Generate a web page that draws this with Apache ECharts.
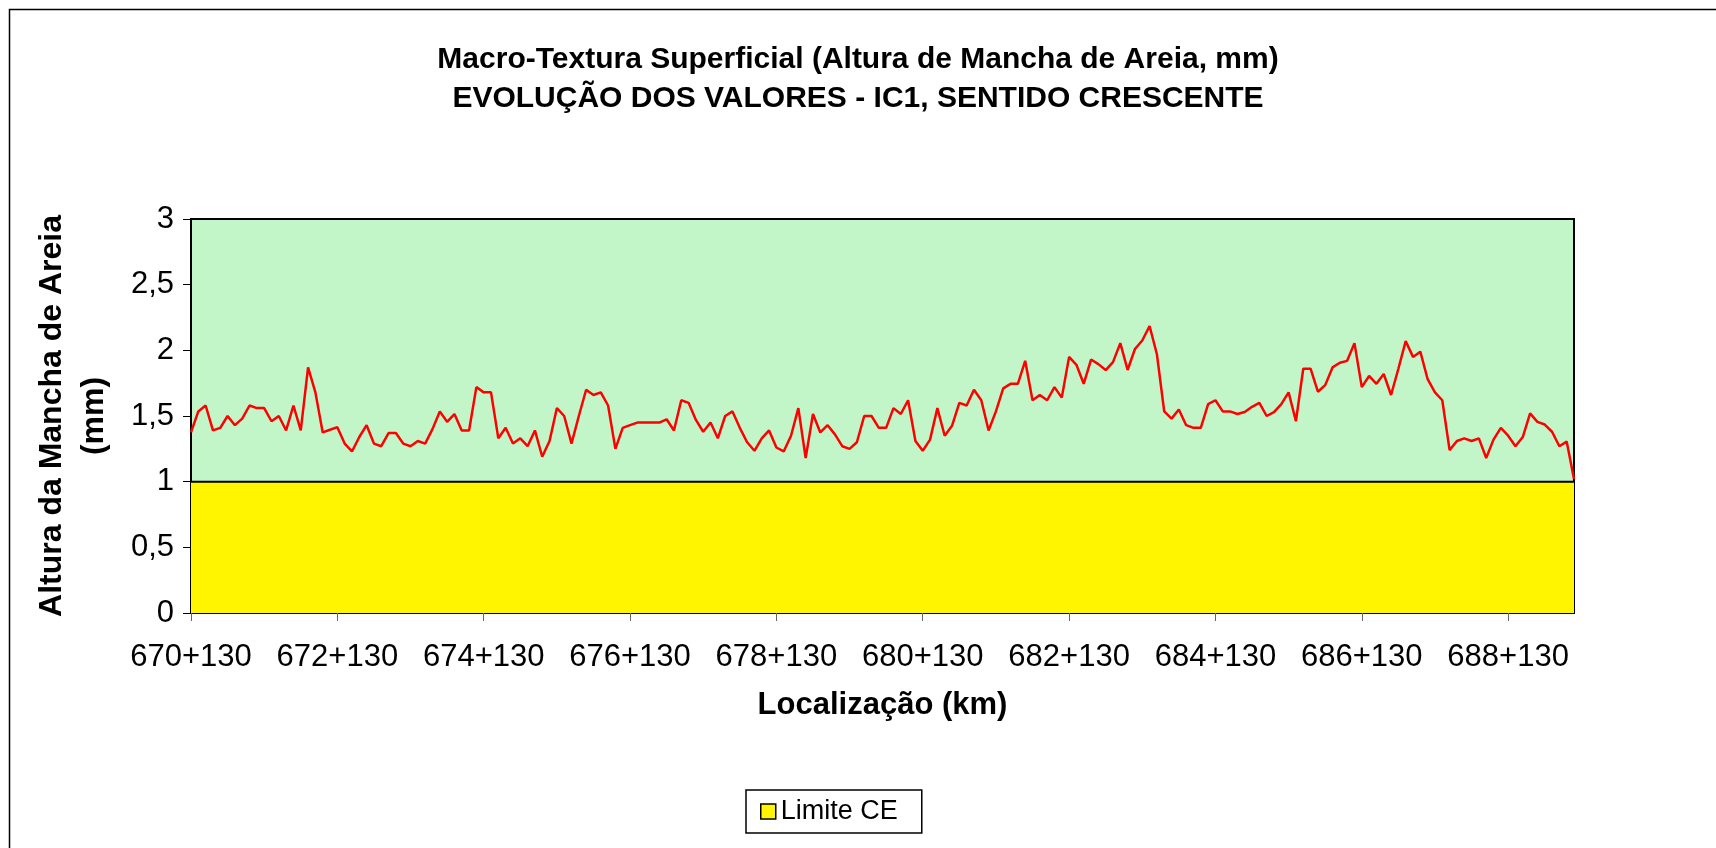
<!DOCTYPE html>
<html>
<head>
<meta charset="utf-8">
<title>Macro-Textura Superficial</title>
<script src="https://cdn.jsdelivr.net/npm/echarts@6/dist/echarts.min.js"></script>
<style>
  html, body { margin: 0; padding: 0; background: #fff; }
  #chart { width: 1716px; height: 848px; }
</style>
</head>
<body>
<div id="chart"></div>
<script>
// localização: pontos de 100 em 100 m a partir do 670+130
var startMetres = 670130
var stepMetres = 100

// altura da mancha de areia (mm)
var alturaValues = [
  1.375, 1.535, 1.58, 1.39, 1.41, 1.50, 1.43, 1.48, 1.58, 1.56,
  1.56, 1.46, 1.50, 1.39, 1.58, 1.39, 1.87, 1.68, 1.375, 1.395,
  1.415, 1.29, 1.23, 1.34, 1.43, 1.29, 1.27, 1.37, 1.37, 1.29,
  1.27, 1.31, 1.29, 1.40, 1.535, 1.456, 1.515, 1.39, 1.39, 1.72,
  1.68, 1.68, 1.33, 1.41, 1.29, 1.33, 1.27, 1.39, 1.19, 1.31,
  1.56, 1.50, 1.29, 1.50, 1.70, 1.66, 1.68, 1.58, 1.25, 1.41,
  1.43, 1.45, 1.45, 1.45, 1.45, 1.475, 1.39, 1.62, 1.60, 1.47,
  1.38, 1.45, 1.33, 1.50, 1.535, 1.41, 1.30, 1.235, 1.33, 1.39,
  1.26, 1.23, 1.35, 1.56, 1.18, 1.515, 1.375, 1.43, 1.36, 1.27,
  1.25, 1.30, 1.50, 1.50, 1.41, 1.41, 1.56, 1.515, 1.62, 1.31,
  1.235, 1.32, 1.56, 1.35, 1.425, 1.60, 1.58, 1.70, 1.62, 1.39,
  1.535, 1.71, 1.745, 1.745, 1.92, 1.62, 1.66, 1.62, 1.72, 1.64,
  1.95, 1.89, 1.745, 1.93, 1.895, 1.85, 1.91, 2.055, 1.85, 2.01,
  2.075, 2.185, 1.97, 1.535, 1.48, 1.55, 1.43, 1.41, 1.41, 1.59,
  1.62, 1.535, 1.535, 1.515, 1.53, 1.57, 1.60, 1.50, 1.53, 1.59,
  1.68, 1.46, 1.86, 1.86, 1.685, 1.735, 1.87, 1.905, 1.92, 2.055,
  1.72, 1.805, 1.745, 1.82, 1.66, 1.86, 2.07, 1.95, 1.99, 1.78,
  1.68, 1.62, 1.24, 1.31, 1.33, 1.31, 1.33, 1.18, 1.32, 1.41,
  1.35, 1.27, 1.34, 1.52, 1.455, 1.435, 1.38, 1.27, 1.305, 1.02
]

// limite do caderno de encargos (mm)
var limiteCE = 1

var titleLines = [
  'Macro-Textura Superficial (Altura de Mancha de Areia, mm)',
  'EVOLUÇÃO DOS VALORES - IC1, SENTIDO CRESCENTE'
]

function pad3(n) {
  return ('00' + n).slice(-3)
}

var categories = alturaValues.map(function (v, i) {
  var m = startMetres + stepMetres * i
  return Math.floor(m / 1000) + '+' + pad3(m % 1000)
})
var limiteData = categories.map(function () { return limiteCE })

var chart = echarts.init(document.getElementById('chart'))
chart.setOption({
  animation: false,
  backgroundColor: '#fff',
  textStyle: { fontFamily: 'Liberation Sans, Arial, sans-serif', color: '#000' },
  title: {
    text: titleLines.join('\n'),
    left: 'center',
    top: 35,
    textStyle: { fontSize: 30, fontWeight: 'bold', lineHeight: 39, color: '#000' }
  },
  // moldura exterior do gráfico
  graphic: [{
    type: 'rect',
    silent: true,
    z: -10,
    shape: { x: 9.5, y: 9.5, width: 1720, height: 860 },
    style: { fill: 'none', stroke: '#000', lineWidth: 1.5 }
  }],
  legend: {
    left: 746,
    top: 790,
    padding: [8, 24, 8, 14],
    borderColor: '#000',
    borderWidth: 1.5,
    itemWidth: 15,
    itemHeight: 15,
    textStyle: { fontSize: 27, color: '#000' },
    data: [{
      name: 'Limite CE',
      icon: 'rect',
      itemStyle: { color: '#FFF500', borderColor: '#000', borderWidth: 1.5 }
    }]
  },
  grid: {
    left: 191,
    right: 142,
    top: 219,
    bottom: 235,
    show: true,
    backgroundColor: '#C2F6C8',
    borderColor: '#000',
    borderWidth: 2
  },
  xAxis: {
    type: 'category',
    data: categories,
    boundaryGap: false,
    axisLine: { lineStyle: { color: '#000', width: 2 } },
    axisTick: { interval: 19, length: 8, lineStyle: { color: '#666' } },
    axisLabel: { interval: 19, fontSize: 31, margin: 29, color: '#000' },
    name: 'Localização (km)',
    nameLocation: 'middle',
    nameGap: 77,
    nameTextStyle: { fontSize: 31, fontWeight: 'bold', color: '#000' }
  },
  yAxis: {
    type: 'value',
    min: 0,
    max: 3,
    interval: 0.5,
    axisLine: { show: true, lineStyle: { color: '#000', width: 2 } },
    axisTick: { show: true, length: 8, lineStyle: { color: '#000' } },
    splitLine: { show: false },
    axisLabel: {
      fontSize: 31,
      margin: 17,
      color: '#000',
      formatter: function (v) { return String(v).replace('.', ',') }
    },
    name: 'Altura da Mancha de Areia\n(mm)',
    nameLocation: 'middle',
    nameRotate: 90,
    nameGap: 76,
    nameTextStyle: { fontSize: 32, fontWeight: 'bold', lineHeight: 42, color: '#000', align: 'center' }
  },
  series: [
    {
      name: 'Limite CE',
      type: 'line',
      data: limiteData,
      symbol: 'none',
      z: 2,
      lineStyle: { color: '#000', width: 2 },
      itemStyle: { color: '#FFF500' },
      areaStyle: { color: '#FFF500', opacity: 1 }
    },
    {
      name: 'Altura',
      type: 'line',
      data: alturaValues,
      symbol: 'none',
      z: 3,
      lineStyle: { color: '#FF0000', width: 2.5 },
      itemStyle: { color: '#FF0000' }
    }
  ]
})
</script>
</body>
</html>
